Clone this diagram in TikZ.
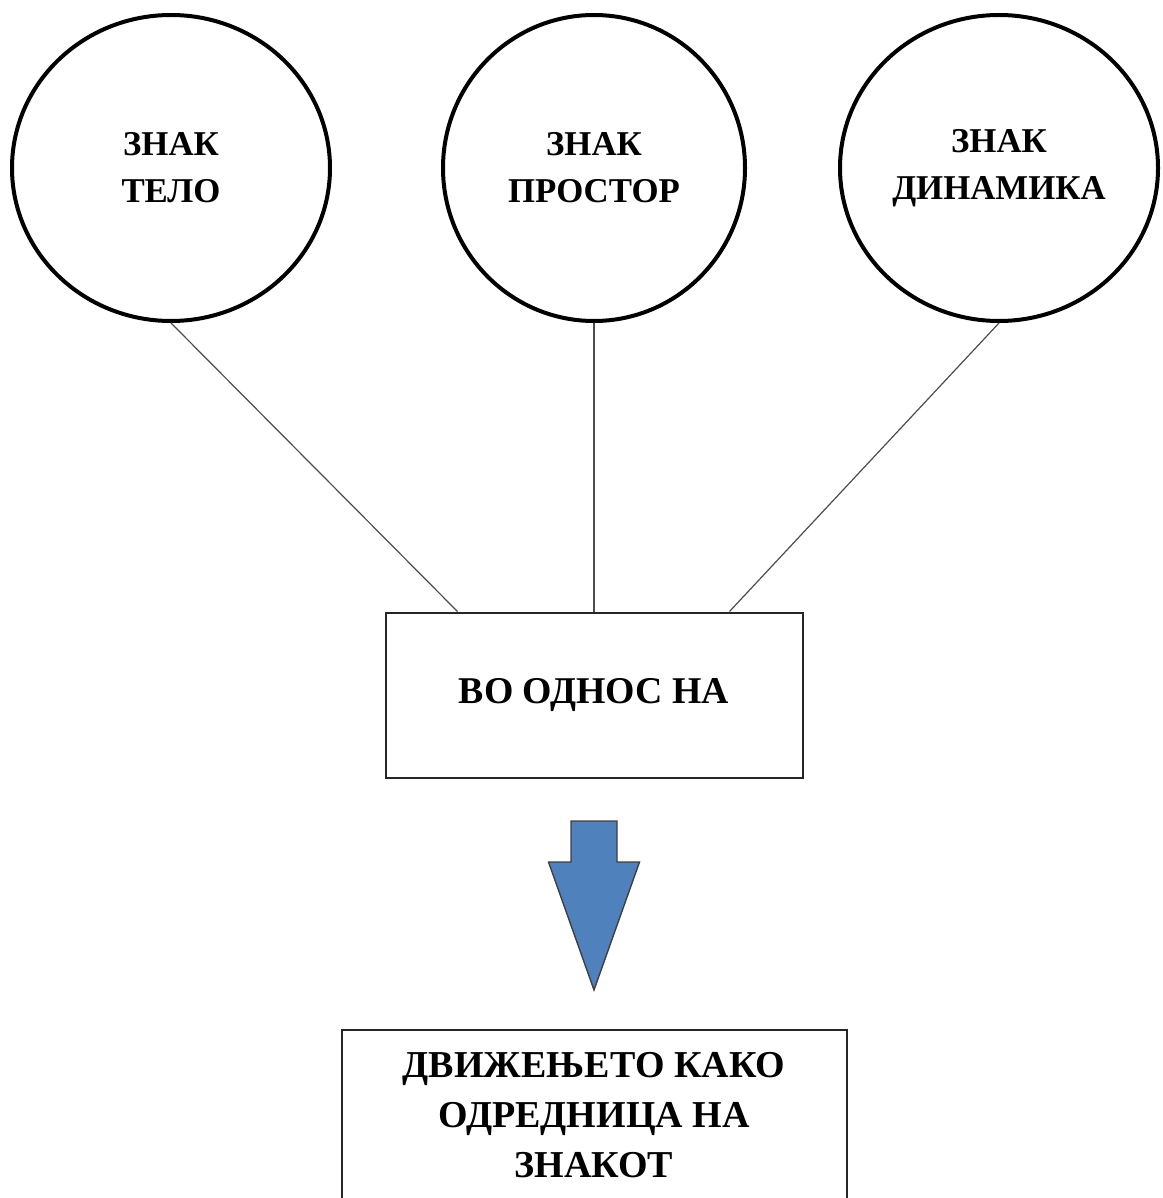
\documentclass[tikz,border=0pt]{standalone}
\usepackage{fontspec}
\setmainfont{Liberation Serif}
\usetikzlibrary{positioning,shapes.geometric}

\tikzstyle{sign} = [draw, ellipse, line width=2pt, inner sep=0pt,
                    minimum width=159pt, minimum height=153pt, align=center,
                    font=\fontsize{17.4}{23.5}\selectfont\bfseries]
\tikzstyle{block} = [draw, rectangle, line width=1pt, align=center]
\tikzstyle{link} = [gray!60!black, line width=0.6pt]

\begin{document}
\begin{tikzpicture}

\def\colL{black!85};
\def\colA{black!75};

\useasboundingbox (0,0) rectangle (581pt,-599pt);

\node[sign,minimum width=151pt]
      at (297pt,-84pt)
      (space) {ЗНАК\\ПРОСТОР};

\node[sign,
      left of=space,node distance=211.5pt]
      (body) {ЗНАК\\ТЕЛО};

\node[sign,
      right of=space,node distance=202.5pt]
      (dyn) {ЗНАК\\ДИНАМИКА};

\node[block,draw=\colL,
      below of=space,node distance=263.5pt,
      minimum width=208.5pt,minimum height=82.5pt,
      font=\fontsize{18.9}{24}\selectfont\bfseries]
      (rel) {ВО ОДНОС НА};

\coordinate[below of=rel,node distance=63pt] (arr);

\node[block,draw=\colL,
      below of=rel,node distance=210pt,
      minimum width=252.5pt,minimum height=85pt,
      font=\fontsize{19}{25}\selectfont\bfseries]
      (res) {ДВИЖЕЊЕТО КАКО\\ОДРЕДНИЦА НА\\ЗНАКОТ};

\draw[link]
     (body.south) -- ([xshift=36.5pt]rel.north west);

\draw[link]
     (space.south) -- (rel.north);

\draw[link]
     (dyn.south) -- ([xshift=-37pt]rel.north east);

% block arrow
\draw[draw=\colA,fill={rgb,255:red,79;green,129;blue,189},line width=0.7pt,line join=miter]
     (arr) ++(-11.5pt,0) -- ++(0,-20.5pt) -- ++(-11.25pt,0)
      -- ++(22.75pt,-64pt) -- ++(22.75pt,64pt) -- ++(-11.25pt,0)
      -- ++(0,20.5pt) -- cycle;

\end{tikzpicture}
\end{document}
